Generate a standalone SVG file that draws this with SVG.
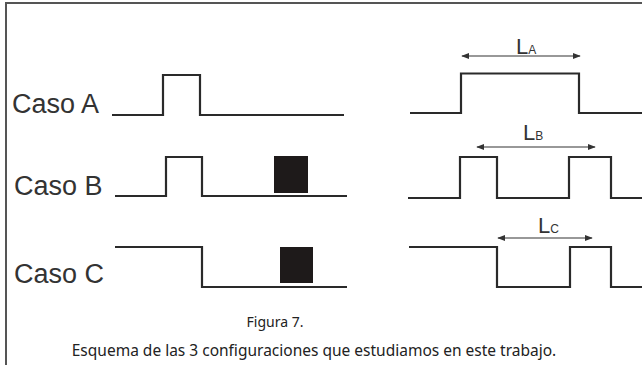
<svg xmlns="http://www.w3.org/2000/svg" width="642" height="365" viewBox="0 0 642 365">
<style>
.frame{fill:none;stroke:#555;stroke-width:2}
.wave{fill:none;stroke:#2a2a2a;stroke-width:2.2;stroke-linejoin:miter}
.dim{fill:none;stroke:#333;stroke-width:1.1}
.lbl{font-family:"Liberation Sans",Arial,sans-serif;font-size:27px;fill:#333}
.L{font-family:"Liberation Sans",Arial,sans-serif;font-size:22px;fill:#333}
.sub{font-size:12px}
.cap{font-family:"Noto Sans","Open Sans",sans-serif;font-size:14px;fill:#222;text-anchor:middle}
.blk{fill:#1e1a1a}
</style>
<defs>
<marker id="ah" viewBox="0 0 10 10" refX="9" refY="5" markerWidth="8" markerHeight="8" markerUnits="userSpaceOnUse" orient="auto-start-reverse">
<path d="M0,1 L10,5 L0,9 Z" fill="#333"/>
</marker>
</defs>
<path class="frame" d="M6,365 V3 H642"/>
<g id="casoA">
<text class="lbl" x="12" y="113">Caso A</text>
<path class="wave" d="M112,115 H163 V75 H200 V115 H344"/>
</g>
<g id="casoB">
<text class="lbl" x="14" y="195">Caso B</text>
<path class="wave" d="M115,196 H166 V157 H202 V196 H347"/>
<rect class="blk" x="274" y="156" width="34" height="37"/>
</g>
<g id="casoC">
<text class="lbl" x="14" y="283">Caso C</text>
<path class="wave" d="M115,247 H202 V287 H347"/>
<rect class="blk" x="280" y="247" width="33" height="36"/>
</g>
<g id="rightA">
<path class="wave" d="M410,113 H461 V73.5 H579 V113 H642"/>
<text class="L" x="516" y="54">L<tspan class="sub">A</tspan></text>
</g>
<g id="rightB">
<path class="wave" d="M408,198 H460 V157 H497 V198 H569 V157 H611 V198 H642"/>
<text class="L" x="523" y="140">L<tspan class="sub">B</tspan></text>
</g>
<g id="rightC">
<path class="wave" d="M409,247 H497 V287 H570 V247 H611 V287 H642"/>
<text class="L" x="538" y="233">L<tspan class="sub">C</tspan></text>
</g>
<g id="connectors">
<line class="dim" x1="462" y1="56" x2="580" y2="56" marker-start="url(#ah)" marker-end="url(#ah)"/>
<line class="dim" x1="477" y1="147" x2="595" y2="147" marker-start="url(#ah)" marker-end="url(#ah)"/>
<line class="dim" x1="498" y1="238" x2="592" y2="238" marker-start="url(#ah)" marker-end="url(#ah)"/>
</g>
<g id="caption">
<text class="cap" x="275" y="327">Figura 7.</text>
<text class="cap" x="314" y="356" style="font-size:15.5px">Esquema de las 3 configuraciones que estudiamos en este trabajo.</text>
</g>
</svg>
